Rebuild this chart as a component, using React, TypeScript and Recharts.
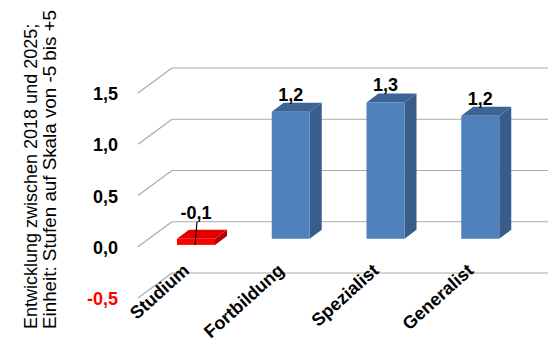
import { Bar, BarChart, CartesianGrid, LabelList, XAxis, YAxis } from "recharts";

const categories = ["Studium", "Fortbildung", "Spezialist", "Generalist"];
const values = [-0.06, 1.24, 1.33, 1.2];
const yTicks = [-0.5, 0, 0.5, 1, 1.5];
const titleLines = ["Entwicklung zwischen 2018 und 2025;", "Einheit: Stufen auf Skala von -5 bis +5"];

const data = categories.map((name, i) => ({ name, value: values[i] }));

const FONT = '"Liberation Sans", Arial, sans-serif';
const GRID = "#aaaaaa";
// 3d offsets: back wall, bar front face, bar depth
const WALL_DX = 34;
const WALL_DY = -25;
const BAR_DX = 11;
const BAR_DY = -8;
const DEPTH_X = 12;
const DEPTH_Y = -9;

const fmt = (v: number) => v.toFixed(1).replace(".", ",");

const GridLine = (props: any) => {
  const { x1, y1, x2, y2 } = props;
  return (
    <g key={props.key}>
      <line x1={x1} y1={y1} x2={x1 + WALL_DX} y2={y1 + WALL_DY} stroke={GRID} strokeWidth={1.2} />
      <line x1={x1 + WALL_DX} y1={y1 + WALL_DY} x2={x2 + WALL_DX} y2={y2 + WALL_DY} stroke={GRID} strokeWidth={1.2} />
    </g>
  );
};

const Bar3D = (props: any) => {
  const { x, y, width, height, value } = props;
  const neg = value < 0;
  const top = Math.min(y, y + height) + BAR_DY;
  const bottom = top + Math.abs(height);
  const left = x + BAR_DX;
  const right = left + width;
  const c = neg
    ? { front: "#ff0000", top: "#e00000", side: "#b80000" }
    : { front: "#4f81bd", top: "#3c6495", side: "#385d8a" };
  return (
    <g>
      <polygon
        points={`${right},${top} ${right + DEPTH_X},${top + DEPTH_Y} ${right + DEPTH_X},${bottom + DEPTH_Y} ${right},${bottom}`}
        fill={c.side}
      />
      <polygon
        points={`${left},${top} ${left + DEPTH_X},${top + DEPTH_Y} ${right + DEPTH_X},${top + DEPTH_Y} ${right},${top}`}
        fill={c.top}
      />
      <rect x={left} y={top} width={width} height={bottom - top} fill={c.front} />
    </g>
  );
};

const BarLabel = (props: any) => {
  const vb = props.viewBox ?? props;
  const { x, y, width, height } = vb;
  const value = Number(props.value);
  const cx = x + width / 2 + BAR_DX;
  const top = Math.min(y, y + height) + BAR_DY;
  const style = { fontFamily: FONT, fontWeight: "bold" as const, fontSize: 18 };
  if (value < 0) {
    const bottom = top + Math.abs(height);
    return (
      <g>
        <line x1={cx + 1} y1={top - 17} x2={cx - 1} y2={bottom} stroke="#000" strokeWidth={1.2} />
        <text x={cx} y={top - 20} textAnchor="middle" fill="#000" {...style}>
          {fmt(value)}
        </text>
      </g>
    );
  }
  return (
    <text x={cx} y={top - 11} textAnchor="middle" fill="#000" {...style}>
      {fmt(value)}
    </text>
  );
};

const YTick = ({ x, y, payload }: any) => (
  <text
    x={x - 20}
    y={y + 7}
    textAnchor="end"
    fontFamily={FONT}
    fontWeight="bold"
    fontSize={18}
    fill={payload.value < 0 ? "#ff0000" : "#000"}
  >
    {fmt(payload.value)}
  </text>
);

const XTick = ({ x, y, payload }: any) => {
  const ax = x + 5;
  const ay = y - 26;
  return (
    <text
      x={ax}
      y={ay}
      transform={`rotate(-42, ${ax}, ${ay})`}
      textAnchor="end"
      fontFamily={FONT}
      fontWeight="bold"
      fontSize={18}
      fill="#000"
    >
      {payload.value}
    </text>
  );
};

const YTitle = () => (
  <g fontFamily={FONT} fill="#000">
    <text transform="translate(37,329) rotate(-90)" fontSize={18}>
      {titleLines[0]}
    </text>
    <text transform="translate(56,329) rotate(-90)" fontSize={18.8}>
      {titleLines[1]}
    </text>
  </g>
);

export default function App() {
  return (
    <div style={{ width: 548, height: 343, background: "#fff" }}>
      <style>{"body{margin:0}"}</style>
      <BarChart width={548} height={343} data={data} margin={{ top: 93, right: 31, bottom: 0, left: 0 }} barSize={38}>
        <CartesianGrid vertical={false} horizontal={GridLine} />
        <XAxis
          dataKey="name"
          height={45}
          axisLine={false}
          tickLine={false}
          tickSize={0}
          tickMargin={0}
          interval={0}
          tick={<XTick />}
        />
        <YAxis
          width={138}
          domain={[-0.5, 1.5]}
          ticks={yTicks}
          axisLine={false}
          tickLine={false}
          tickSize={0}
          tickMargin={0}
          tick={<YTick />}
          label={<YTitle />}
        />
        <Bar dataKey="value" shape={<Bar3D />} isAnimationActive={false}>
          <LabelList dataKey="value" content={<BarLabel />} />
        </Bar>
      </BarChart>
    </div>
  );
}
